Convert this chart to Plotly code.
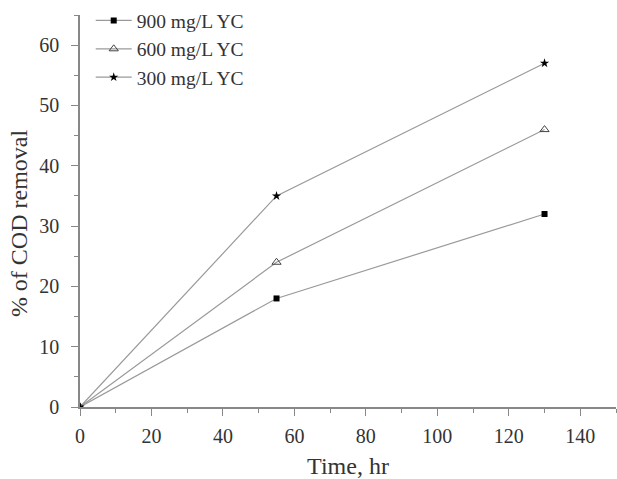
import plotly.graph_objects as go

time_hr = [0, 55, 130]
yc_900 = [0, 18, 32]
yc_600 = [0, 24, 46]
yc_300 = [0, 35, 57]

fig = go.Figure()
series = [
    ("900 mg/L YC", yc_900, dict(symbol="square", size=6, color="black")),
    ("600 mg/L YC", yc_600, dict(symbol="triangle-up-open", size=8, color="#444", line=dict(width=1, color="#444"))),
    ("300 mg/L YC", yc_300, dict(symbol="star", size=7, color="black")),
]
for name, ys, mk in series:
    fig.add_trace(go.Scatter(x=time_hr, y=ys, name=name, mode="lines+markers",
                             line=dict(color="#9a9a9a", width=1.2), marker=mk))

fig.update_layout(
    width=617, height=479,
    margin=dict(l=80, r=1, t=14, b=70),
    paper_bgcolor="white", plot_bgcolor="white",
    font=dict(family="Liberation Serif", size=18, color="#333"),
    legend=dict(x=0.02, y=1.035, xanchor="left", yanchor="top", bgcolor="rgba(0,0,0,0)",
                font=dict(size=19.5, color="#333"), tracegroupgap=0, itemwidth=36),
    xaxis=dict(range=[0, 150], tickvals=[0, 20, 40, 60, 80, 100, 120, 140],
               tickfont=dict(size=20), ticklabelstandoff=3,
               showgrid=False, zeroline=False, showline=True, linecolor="#888", linewidth=1.5,
               ticks="outside", ticklen=7, tickcolor="#888",
               minor=dict(dtick=10, ticks="outside", ticklen=4, tickcolor="#888"),
               title=dict(text="Time, hr", font=dict(size=24), standoff=14)),
    yaxis=dict(range=[0, 65], tickvals=[0, 10, 20, 30, 40, 50, 60],
               tickfont=dict(size=20), ticklabelstandoff=8,
               showgrid=False, zeroline=False, showline=True, linecolor="#888", linewidth=1.5,
               ticks="outside", ticklen=7, tickcolor="#888",
               minor=dict(dtick=5, ticks="outside", ticklen=4, tickcolor="#888")),
    annotations=[dict(text="% of COD removal", textangle=-90, xref="paper", yref="paper",
                      x=-0.115, y=0.47, xanchor="center", yanchor="middle", showarrow=False,
                      font=dict(size=24, color="#333"))],
)
fig.write_html("out.html")
